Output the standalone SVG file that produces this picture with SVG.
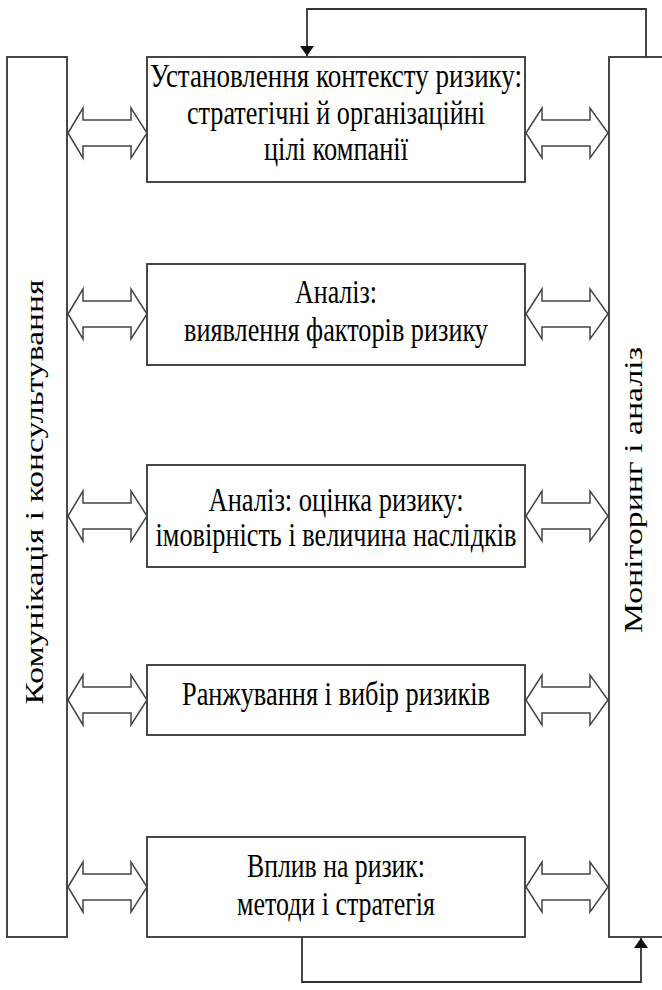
<svg xmlns="http://www.w3.org/2000/svg" width="662" height="990" viewBox="0 0 662 990">
<style>
.box{fill:#fff;stroke:#333;stroke-width:1.8}
.arr{fill:#fff;stroke:#444;stroke-width:1.5;stroke-linejoin:miter}
.ln{fill:none;stroke:#333;stroke-width:1.8}
.t{font-size:33px;fill:#000;text-anchor:middle}
</style>
<defs>
<marker id="ah" viewBox="0 0 10 14" refX="10" refY="7" markerWidth="10" markerHeight="14" markerUnits="userSpaceOnUse" orient="auto">
<path d="M0,0 L10,7 L0,14 Z" fill="#111"/>
</marker>
<path id="dblL" class="arr" d="M68,0 L83,-25 L83,-13 L131,-13 L131,-25 L147,0 L131,25 L131,13 L83,13 L83,25 Z"/>
<path id="dblR" class="arr" d="M526,0 L542,-25 L542,-13 L590,-13 L590,-25 L608,0 L590,25 L590,13 L542,13 L542,25 Z"/>
</defs>

<g font-family="'Liberation Serif', 'Times New Roman', 'DejaVu Serif', serif">
<g id="left-bar">
<rect class="box" x="7" y="57" width="60" height="880"/>
<text class="t" transform="translate(43,492) scale(0.76,1) rotate(-90)" textLength="425" lengthAdjust="spacingAndGlyphs">Комунікація і консультування</text>
</g>

<g id="right-bar">
<rect class="box" x="609" y="57" width="70" height="880"/>
<text class="t" transform="translate(642,490) scale(0.76,1) rotate(-90)" textLength="286" lengthAdjust="spacingAndGlyphs">Моніторинг і аналіз</text>
</g>

<g id="box1">
<rect class="box" x="147" y="57" width="378" height="125"/>
<text class="t" x="336" y="87" textLength="372" lengthAdjust="spacingAndGlyphs">Установлення контексту ризику:</text>
<text class="t" x="336" y="124" textLength="298" lengthAdjust="spacingAndGlyphs">стратегічні й організаційні</text>
<text class="t" x="336" y="160" textLength="144" lengthAdjust="spacingAndGlyphs">цілі компанії</text>
</g>

<g id="box2">
<rect class="box" x="147" y="264" width="378" height="101"/>
<text class="t" x="336" y="303" textLength="82" lengthAdjust="spacingAndGlyphs">Аналіз:</text>
<text class="t" x="336" y="341" textLength="304" lengthAdjust="spacingAndGlyphs">виявлення факторів ризику</text>
</g>

<g id="box3">
<rect class="box" x="147" y="465" width="378" height="102"/>
<text class="t" x="336" y="511" textLength="255" lengthAdjust="spacingAndGlyphs">Аналіз: оцінка ризику:</text>
<text class="t" x="336" y="546" textLength="361" lengthAdjust="spacingAndGlyphs">імовірність і величина наслідків</text>
</g>

<g id="box4">
<rect class="box" x="147" y="665" width="378" height="70"/>
<text class="t" x="336" y="705" textLength="308" lengthAdjust="spacingAndGlyphs">Ранжування і вибір ризиків</text>
</g>

<g id="box5">
<rect class="box" x="147" y="837" width="378" height="100"/>
<text class="t" x="336" y="877" textLength="178" lengthAdjust="spacingAndGlyphs">Вплив на ризик:</text>
<text class="t" x="336" y="915" textLength="198" lengthAdjust="spacingAndGlyphs">методи і стратегія</text>
</g>
</g>

<g id="connectors">
<use href="#dblL" transform="translate(0,133)"/>
<use href="#dblR" transform="translate(0,133)"/>
<use href="#dblL" transform="translate(0,314)"/>
<use href="#dblR" transform="translate(0,314)"/>
<use href="#dblL" transform="translate(0,516)"/>
<use href="#dblR" transform="translate(0,516)"/>
<use href="#dblL" transform="translate(0,700)"/>
<use href="#dblR" transform="translate(0,700)"/>
<use href="#dblL" transform="translate(0,887)"/>
<use href="#dblR" transform="translate(0,887)"/>
<path class="ln" d="M646,57 L646,9 L307,9 L307,56" marker-end="url(#ah)"/>
<path class="ln" d="M302,937 L302,982 L641,982 L641,938" marker-end="url(#ah)"/>
</g>
</svg>
